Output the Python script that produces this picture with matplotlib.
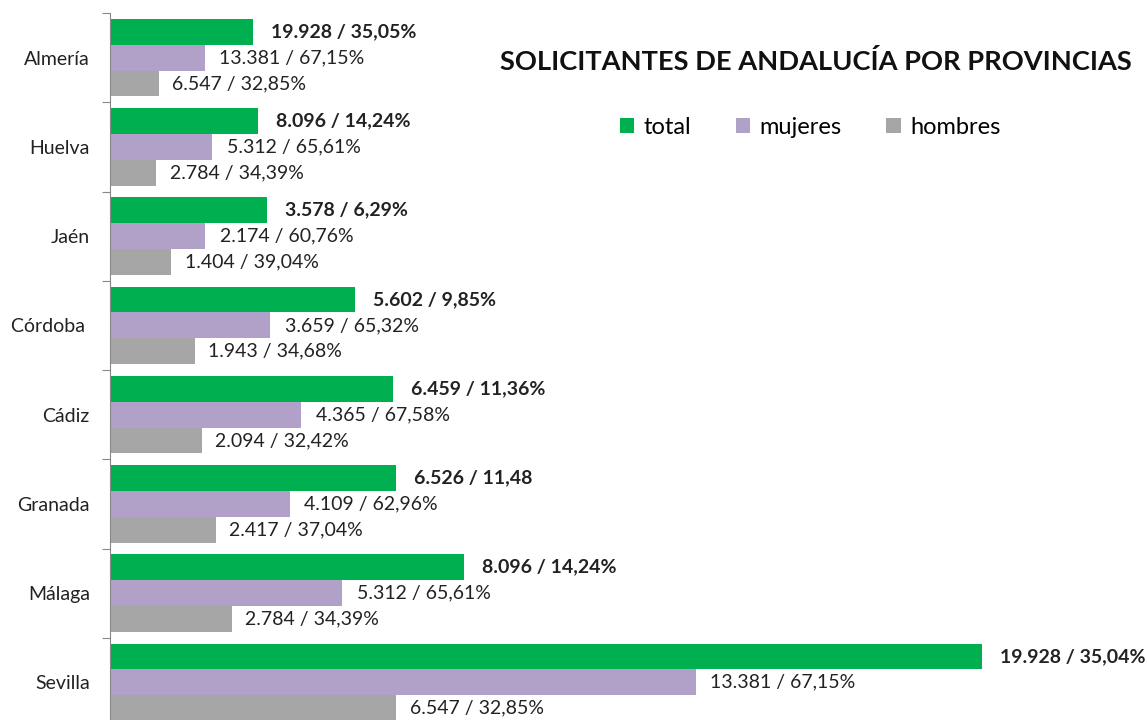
import numpy as np
import matplotlib.pyplot as plt
from matplotlib.ticker import FixedLocator

provincias = ["Almería", "Huelva", "Jaén", "Córdoba ", "Cádiz", "Granada", "Málaga", "Sevilla"]

# bar lengths as drawn in the original chart
total = [3268, 3390, 3578, 5602, 6459, 6526, 8096, 19928]
mujeres = [2160, 2330, 2174, 3659, 4365, 4109, 5312, 13381]
hombres = [1110, 1060, 1404, 1943, 2094, 2417, 2784, 6547]

# data labels exactly as printed in the original
labels_total = ["19.928 / 35,05%", "8.096 / 14,24%", "3.578 / 6,29%", "5.602 / 9,85%",
                "6.459 / 11,36%", "6.526 / 11,48", "8.096 / 14,24%", "19.928 / 35,04%"]
labels_mujeres = ["13.381 / 67,15%", "5.312 / 65,61%", "2.174 / 60,76%", "3.659 / 65,32%",
                  "4.365 / 67,58%", "4.109 / 62,96%", "5.312 / 65,61%", "13.381 / 67,15%"]
labels_hombres = ["6.547 / 32,85%", "2.784 / 34,39%", "1.404 / 39,04%", "1.943 / 34,68%",
                  "2.094 / 32,42%", "2.417 / 37,04%", "2.784 / 34,39%", "6.547 / 32,85%"]

GREEN = "#00B050"
PURPLE = "#B1A0C7"
GRAY = "#A6A6A6"

plt.rcParams["font.family"] = ["Lato", "DejaVu Sans"]

fig = plt.figure(figsize=(11.47, 7.2), dpi=100)
W, H = 1147, 720
ax = fig.add_axes([110 / W, 1 - 727 / H, 1 - 110 / W, (727 - 13) / H])

y = np.arange(len(provincias))
h = 0.29
series = [
    (total, labels_total, GREEN, "total", -h, "bold", 13),
    (mujeres, labels_mujeres, PURPLE, "mujeres", 0, "normal", 10.5),
    (hombres, labels_hombres, GRAY, "hombres", h, "normal", 9.5),
]
for vals, labs, color, name, off, weight, gap in series:
    bars = ax.barh(y + off, vals, height=h, color=color, label=name)
    for b, txt in zip(bars, labs):
        ax.annotate(txt, (b.get_width(), b.get_y() + b.get_height() / 2),
                    xytext=(gap, 0), textcoords="offset points",
                    ha="left", va="center", fontsize=14, fontweight=weight,
                    color="#222222")

ax.set_xlim(0, 1037 / 0.04376)
ax.set_ylim(len(provincias) - 0.5, -0.5)

for s in ["top", "right", "bottom"]:
    ax.spines[s].set_visible(False)
ax.spines["left"].set_color("#888888")
ax.set_xticks([])

ax.yaxis.set_major_locator(FixedLocator(np.arange(-0.5, len(provincias), 1)))
ax.yaxis.set_major_formatter(plt.NullFormatter())
ax.yaxis.set_minor_locator(FixedLocator(y))
ax.set_yticklabels(provincias, minor=True, fontsize=14, color="#222222")
ax.tick_params(axis="y", which="major", length=6, color="#888888")
ax.tick_params(axis="y", which="minor", length=0, pad=14.5)

fig.text(816 / W, 1 - 62 / H, "SOLICITANTES DE ANDALUCÍA POR PROVINCIAS",
         ha="center", va="center", fontsize=19.6, fontweight="bold", color="#111111")

fig.legend(loc="center", bbox_to_anchor=(810 / W, 1 - 127 / H), ncol=3, frameon=False,
           fontsize=17, handlelength=0.6, handleheight=0.6, handletextpad=0.4,
           columnspacing=1.9)

fig.savefig("out.png", dpi=100)
